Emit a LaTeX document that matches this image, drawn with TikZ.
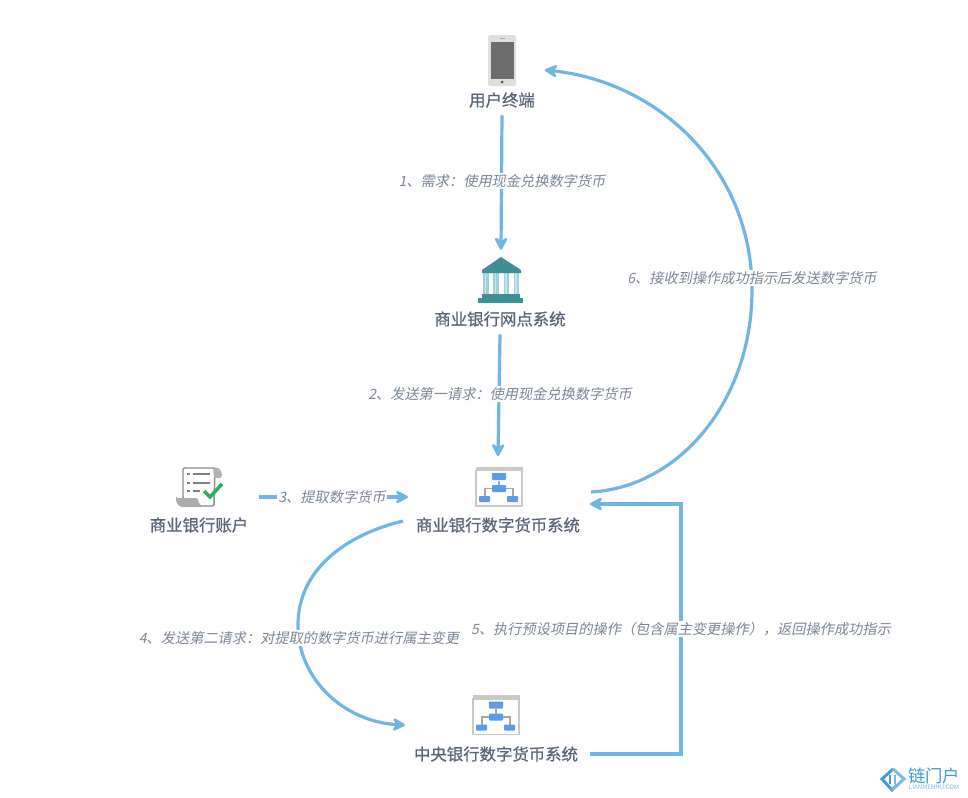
\documentclass[tikz,border=0pt]{standalone}
\usepackage{fontspec}
\usetikzlibrary{arrows.meta}
\newfontfamily\cjkb[FakeBold=0.6]{Noto Sans CJK SC}
\newfontfamily\cjki[FakeSlant=0.2]{Noto Sans CJK SC}
\newfontfamily\cjkr{Noto Sans CJK SC}
\definecolor{arrowblue}{HTML}{6FB6E3}
\definecolor{titlecol}{HTML}{5A6478}
\definecolor{labcol}{HTML}{7C8698}
\definecolor{teal1}{HTML}{3F8F98}
\definecolor{teal2}{HTML}{9FCFD9}
\definecolor{flow}{HTML}{5A9BEA}
\definecolor{hdr}{HTML}{C9C9C9}
\definecolor{logo}{HTML}{3E9BD6}
\definecolor{okgreen}{HTML}{27AE60}
\tikzset{
  x=0.75pt,y=-0.75pt,
  title/.style={font=\cjkb\fontsize{12.3pt}{14pt}\selectfont,text=titlecol,inner sep=0pt,minimum height=22.5pt},
  lab/.style={font=\cjki\fontsize{10.65pt}{13pt}\selectfont,text=labcol,fill=white,inner sep=1pt},
  conn/.style={draw=arrowblue,line width=2.4pt,-{Stealth[length=12pt,width=12.5pt,inset=4.5pt,round]}},
  iconbox/.style={inner sep=0pt,minimum width=45pt,minimum height=45pt},
}
\newcommand{\flowicon}[2]{%
  \begin{scope}[shift={(#1,#2)}]
    \fill[hdr] (-23.5,-20) rectangle (23.5,-15);
    \fill[white,draw=hdr,line width=0.9pt] (-23,-16) rectangle (23,19.5);
    \draw[gray!70,line width=0.8pt] (0,-6) -- (0,3) (-14,9.5) -- (-14,2) -- (14,2) -- (14,9.5);
    \fill[flow,rounded corners=0.6pt] (-7,-13.5) rectangle (7,-6.5);
    \fill[flow,rounded corners=0.6pt] (-7,-1.5) rectangle (7,5.5);
    \fill[flow,rounded corners=0.6pt] (-20,9.5) rectangle (-9,15.5);
    \fill[flow,rounded corners=0.6pt] (8,9.5) rectangle (19,15.5);
  \end{scope}}
\begin{document}
\begin{tikzpicture}
\useasboundingbox (0,0) rectangle (968,797);
\fill[white] (0,0) rectangle (968,797);

% phone
\fill[gray!25,rounded corners=1.2pt] (488,35) rectangle (516,86);
\fill[gray!85!black] (491,42) rectangle (514,79);
\fill[black!70] (502,82) circle (1.5);
\fill[gray!70] (500,38) rectangle (505,39);
% bank
\foreach \cx in {483,493,503.5,513.5}{
  \fill[teal2] (\cx,273) rectangle (\cx+5.5,294);
  \fill[teal2!55!white] (\cx+1.8,273) rectangle (\cx+3.4,294);
}
\fill[teal1] (501,257) -- (521,270) -- (521,273) -- (482,273) -- (482,270) -- cycle;
\fill[teal1] (482,294) rectangle (520,298);
\fill[teal1] (478,298) rectangle (523,303);
% ledger
\draw[gray!90,line width=1.1pt,fill=white,rounded corners=1pt] (183,468) -- (215,468) -- (214,506) -- (190,506) -- (183,498) -- cycle;
\fill[gray!60,rounded corners=2pt] (213,468) .. controls (219,467) and (222,471) .. (222,478) -- (214,478) -- cycle;
\fill[gray!65,rounded corners=1pt] (176,498) -- (198,498) .. controls (198,502) and (200,505) .. (203,507) -- (184,507) .. controls (179,507) and (176,503) .. (176,498) -- cycle;
\foreach \ly/\lw in {474/210,483/210,491/200}{
  \fill[gray] (187,\ly-1.2) rectangle (190,\ly+1.2);
  \draw[gray,line width=1pt] (193,\ly) -- (\lw,\ly);
}
\draw[okgreen,line width=2.6pt] (204,491) -- (210,497) -- (222,484);
\flowicon{499}{486.5}
\flowicon{496}{715}

% invisible anchors and titles
\node[title] (term) at (502,100) {用户终端};
\node[iconbox,minimum height=39pt] (bankicon) at (501,276) {};
\node[title] (bank) at (500,319) {商业银行网点系统};
\node[iconbox,minimum height=40pt] (cbicon) at (498,483) {};
\node[title] (cb) at (498,525) {商业银行数字货币系统};
\node[title] (acct) at (199,525) {商业银行账户};
\node[iconbox,minimum width=30pt,minimum height=45pt,anchor=east] (accticon) at (259,497) {};
\node[iconbox,minimum width=30pt,minimum height=20pt,anchor=west] (cbin) at (408,497) {};
\node[title] (ctr) at (496,754) {中央银行数字货币系统};
\coordinate (phoneR) at (545,70);
\coordinate (cbOutR) at (591,492);
\coordinate (cbInR) at (590,504);
\coordinate (cbL) at (403,521);
\coordinate (ctrIn) at (405,725);
\coordinate (ctrOut) at (590,754);
\coordinate (bend) at (681,754);
\coordinate (bendT) at (681,504);

% connectors
\draw[conn] (term.south) -- (bankicon.north);
\draw[conn] (bank.south) -- (cbicon.north);
\draw[conn] (accticon.east) -- (cbin.west);
\draw[conn] (cbOutR) .. controls (680,487) and (752,400) .. (752,290) .. controls (752,170) and (660,82) .. (phoneR);
\draw[conn] (cbL) .. controls (345,535) and (298,570) .. (298,625) .. controls (298,680) and (345,722) .. (ctrIn);
\draw[conn] (ctrOut) -- (bend) -- (bendT) -- (cbInR);

% labels
\node[lab] (l1) at (502,181) {1、需求：使用现金兑换数字货币};
\node[lab] (l2) at (500,394) {2、发送第一请求：使用现金兑换数字货币};
\node[lab] (l3) at (332,497) {3、提取数字货币};
\node[lab] (l4) at (299,638) {4、发送第二请求：对提取的数字货币进行属主变更};
\node[lab] (l5) at (681,629) {5、执行预设项目的操作（包含属主变更操作），返回操作成功指示};
\node[lab] (l6) at (752,278) {6、接收到操作成功指示后发送数字货币};

% logo
\draw[logo,line width=2.2pt] (893,769) -- (882,779) -- (892,790) -- (897,785);
\draw[logo!70!white,line width=2.2pt] (893,769) -- (904,779) -- (892,790);
\draw[logo,line width=1.4pt] (890,775) -- (890,784);
\draw[logo!70!white,line width=1.4pt] (895,775) -- (895,784);
\node[font=\cjkr\fontsize{13pt}{14pt}\selectfont,text=logo,inner sep=0pt] (logotxt) at (934,776) {链门户};
\node[font=\cjkr\fontsize{4.6pt}{5pt}\selectfont,text=logo!70!white,inner sep=0pt] (logourl) at (934,787) {LIANMENHU.COM};
\end{tikzpicture}
\end{document}
